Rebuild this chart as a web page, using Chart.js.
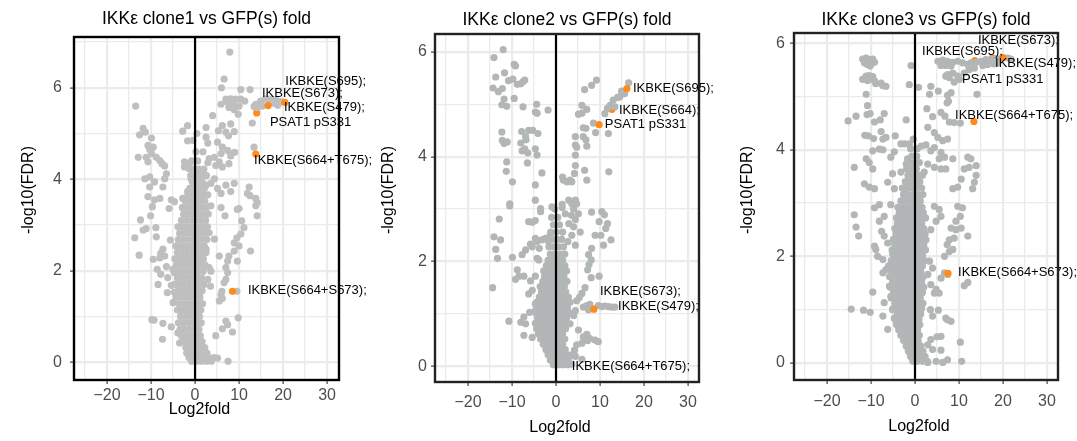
<!DOCTYPE html>
<html>
<head>
<meta charset="utf-8">
<script src="https://cdn.jsdelivr.net/npm/chart.js@4.4.1/dist/chart.umd.min.js"></script>
<style>
  body { margin: 0; background: #fff; width: 1077px; height: 441px; position: relative; overflow: hidden; }
  canvas { position: absolute; top: 0; }
</style>
</head>
<body>
<canvas id="clone1" width="380" height="441" style="left:0px"></canvas>
<canvas id="clone2" width="380" height="441" style="left:360px"></canvas>
<canvas id="clone3" width="360" height="441" style="left:717px"></canvas>
<script>
// ===================
// DATA  (x = Log2fold, y = -log10(FDR))
// ===================
const xTicks = [-25, -20, -15, -10, -5, 0, 5, 10, 15, 20, 25, 30];
const yTicks1 = [0, 1, 2, 3, 4, 5, 6, 7];
const yTicks23 = [0, 1, 2, 3, 4, 5, 6];

// --- clone1: scattered sites
const clone1Sites = [
  [7.9,6.78],[6.6,6.19],[6.0,6.00],[10.4,5.96],[12.5,5.96],[7.0,5.75],[8.1,5.76],[9.2,5.75],[10.4,5.75],[11.3,5.71],
  [8.7,5.64],[10.0,5.60],[8.9,5.52],[9.8,5.42],[5.9,5.64],[7.7,5.57],[7.4,5.68],[13.8,5.64],[14.9,5.71],[16.0,5.75],
  [17.1,5.75],[18.3,5.73],[19.4,5.70],[14.1,5.57],[13.4,5.59],[17.9,5.66],[18.8,5.62],[15.3,5.60],[13.0,5.23],[4.0,5.39],
  [-13.5,5.60],[-1.7,5.17],[-2.8,5.05],[2.5,5.13],[6.2,5.17],[8.1,5.21],[7.0,5.03],[7.6,4.95],[8.9,5.04],[5.3,5.06],
  [-11.8,5.11],[-11.3,5.03],[-12.6,4.97],[-9.9,4.90],[-10.7,4.74],[-10.3,4.65],[-9.5,4.70],[-9.9,4.56],[-11.1,4.48],[-8.8,4.48],
  [-8.0,4.41],[-7.5,4.34],[-6.9,4.29],[-12.9,4.48],[-10.7,4.38],[-1.7,4.84],[-2.4,4.38],[-1.3,4.34],[-1.3,4.23],[-2.4,4.27],
  [2.5,4.92],[2.9,4.79],[5.1,4.81],[6.2,4.70],[7.4,4.63],[8.1,4.56],[9.0,4.59],[5.9,4.56],[4.4,4.48],[5.5,4.38],
  [3.2,4.45],[2.9,4.36],[4.7,4.30],[6.2,4.27],[7.7,4.34],[8.1,4.51],[13.4,4.70],[8.9,3.91],[12.3,3.83],[11.9,3.69],
  [12.5,3.64],[13.8,3.58],[14.1,3.49],[-11.4,4.01],[-10.3,4.05],[-9.2,3.94],[-6.5,4.12],[-6.9,4.01],[-7.3,3.83],[-10.3,3.83],
  [-10.7,3.62],[-9.2,3.55],[-8.0,3.58],[-5.4,3.55],[-4.7,3.51],[-2.8,3.58],[1.0,4.16],[2.1,4.09],[1.4,3.94],[2.5,3.87],
  [3.6,3.91],[4.4,4.01],[5.1,3.80],[5.9,3.69],[7.0,3.87],[8.1,3.73],[10.0,3.36],[-0.9,4.01],[-0.2,3.83],[-1.7,3.73],
  [-9.7,3.40],[-5.9,3.36],[-12.4,3.11],[-10.1,3.20],[-11.1,2.92],[-11.8,2.89],[-8.9,2.94],[-13.7,2.72],[-8.8,2.74],[-5.6,2.67],
  [-7.3,2.47],[-7.8,2.38],[-6.9,2.32],[-12.7,2.34],[-9.5,2.25],[-8.0,2.28],[-8.6,2.03],[-6.5,2.09],[-5.0,2.03],[-7.8,1.92],
  [-6.2,1.85],[-4.7,1.96],[-8.4,1.70],[-5.4,1.68],[-4.7,1.53],[-6.3,1.52],[-5.0,1.30],[-9.8,0.93],[-9.3,0.92],[-7.3,0.85],
  [-5.4,0.77],[-7.4,0.50],[-3.9,0.64],[-3.5,0.42],[3.6,3.42],[5.9,3.38],[6.8,3.20],[9.6,3.34],[13.8,3.42],[14.1,3.20],
  [10.6,3.09],[11.1,2.94],[10.4,2.80],[9.5,2.72],[8.9,2.61],[10.0,2.54],[8.9,2.43],[12.6,2.43],[7.7,2.32],[9.6,2.21],
  [7.4,2.21],[5.5,2.32],[7.0,2.07],[7.4,1.96],[7.0,1.81],[6.6,1.74],[6.1,1.55],[9.5,1.55],[5.9,1.48],[5.5,1.34],
  [6.2,1.39],[9.8,0.97],[7.0,0.90],[7.4,0.82],[6.2,0.73],[8.5,0.66],[4.7,0.58],[5.1,0.09],[7.5,0.02],[3.2,2.07],
  [3.6,1.99],[3.5,1.66],[2.9,1.81],[3.2,2.83],[4.4,2.69],[2.5,2.47]
];
// --- clone1: dense core, each row is [-log10(FDR), log2fold, log2fold, ...]
const clone1Core = [
  [0.02,-0.8,0.3,1.4,2.6,3.7],[0.10,-1.4,-0.3,0.9,2.0,3.2,4.4],[0.20,-1.9,-0.8,0.4,1.5,2.7],[0.32,-2.1,-1.1,0.0,1.1,2.2],
  [0.45,-2.6,-1.5,-0.4,0.7,1.6],[0.58,-3.1,-2.0,-0.9,0.2,1.2],[0.72,-3.4,-2.4,-1.3,-0.2,0.9],[0.86,-3.8,-2.7,-1.6,-0.5,0.6,1.4],
  [1.00,-3.3,-2.2,-1.1,0.0,1.0],[1.14,-4.0,-2.9,-1.8,-0.7,0.4,1.3],[1.28,-3.6,-2.5,-1.4,-0.3,0.8,1.7],[1.42,-4.3,-3.2,-2.1,-1.0,0.1,1.1],
  [1.56,-3.8,-2.7,-1.6,-0.5,0.6,1.6],[1.70,-4.6,-3.5,-2.4,-1.3,-0.2,0.9,2.0],[1.84,-4.0,-2.9,-1.8,-0.7,0.4,1.5],
  [1.98,-4.8,-3.7,-2.6,-1.5,-0.4,0.7,1.8],[2.12,-4.2,-3.1,-2.0,-0.9,0.2,1.3,2.3],[2.26,-4.6,-3.5,-2.4,-1.3,-0.2,0.9,1.9],
  [2.40,-4.0,-2.9,-1.8,-0.7,0.4,1.5,2.5],[2.54,-4.4,-3.3,-2.2,-1.1,0.0,1.1,2.1],[2.68,-3.8,-2.7,-1.6,-0.5,0.6,1.7,2.7],
  [2.82,-3.5,-2.4,-1.3,-0.2,0.9,2.0],[2.96,-3.9,-2.8,-1.7,-0.6,0.5,1.6,2.8],[3.10,-3.1,-2.0,-0.9,0.2,1.3,2.4],
  [3.24,-2.6,-1.5,-0.4,0.7,1.8,3.0],[3.38,-2.9,-1.8,-0.7,0.4,1.5,2.6],[3.52,-2.2,-1.1,0.0,1.1,2.2],[3.66,-1.6,-0.5,0.6,1.7,2.9],
  [3.80,-1.2,-0.1,1.0,2.1],[3.94,-0.6,0.5,1.6],[4.08,-1.0,0.2,1.3,2.6],[4.22,-0.4,0.8,2.0],[4.40,-0.8,0.6],[4.60,0.2,1.8],
  [4.85,-0.5],[5.00,0.4]
];
const clone1Hits = [["IKBKE(S479)",20.4,5.68],["IKBKE(S673)",16.6,5.61],["IKBKE(S664+T675)",13.8,4.55],["IKBKE(S664+S673)",8.5,1.55]];
const clone1Hidden = [["PSAT1 pS331",14.0,5.45]];
const clone1Labels = [["IKBKE(S695);",20.5,6.14],["IKBKE(S673);",15.2,5.88],["IKBKE(S479);",20.2,5.56],
  ["PSAT1 pS331",17.0,5.25],["IKBKE(S664+T675);",13.4,4.42],["IKBKE(S664+S673);",12.0,1.57]];

// --- clone2
const clone2Sites = [
  [-12.0,6.04],[-14.1,5.89],[-9.5,5.76],[-9.2,5.73],[-13.7,5.52],[-11.7,5.60],[-9.8,5.48],[-10.8,5.45],[-8.8,5.38],[-8.0,5.39],
  [-7.5,5.43],[-7.1,5.46],[-14.3,5.31],[-13.1,5.24],[-12.2,5.30],[-11.8,5.10],[-9.5,5.11],[-12.3,4.99],[-11.2,4.96],[-7.5,4.95],
  [-4.4,5.00],[-4.7,4.85],[-4.3,4.83],[-1.8,4.89],[-12.3,4.47],[-12.2,4.31],[-11.1,4.28],[-11.8,4.25],[-7.8,4.48],[-6.2,4.50],
  [-5.3,4.50],[-4.1,4.44],[-6.9,4.38],[-6.8,4.32],[-8.0,4.26],[-4.7,4.15],[-7.7,4.11],[-7.1,4.15],[-6.4,4.07],[-4.3,4.03],
  [-11.2,3.90],[-11.3,3.72],[-9.9,3.52],[-6.5,3.88],[-3.2,3.69],[-4.7,3.46],[-10.5,3.10],[-4.7,3.17],[-3.5,3.01],
  [9.2,5.46],[8.1,5.36],[6.5,5.28],[16.5,5.41],[14.9,5.25],[14.0,5.13],[13.0,5.08],[12.3,4.98],[13.4,4.95],[11.7,4.92],
  [14.5,5.14],[15.6,5.20],[11.1,4.82],[5.9,4.98],[7.0,4.90],[5.9,4.83],[5.1,4.81],[8.5,4.64],[9.0,4.46],[11.9,4.44],
  [6.2,4.55],[6.8,4.54],[6.2,4.38],[6.8,4.32],[4.4,4.38],[4.4,4.22],[4.7,4.18],[7.0,4.20],[4.4,4.03],[4.4,3.83],
  [6.5,3.74],[7.0,3.55],[12.0,3.71],[4.2,3.68],[3.2,3.55],[2.5,3.52],[1.7,3.55],[3.6,3.52],[1.5,3.61],[4.4,3.17],
  [2.9,3.17],[3.6,3.10],[4.7,3.10],[-0.9,3.04],[1.4,3.09],
  [-10.5,3.06],[-12.9,2.81],[-14.1,2.47],[-12.6,2.41],[-13.7,2.23],[-13.3,2.06],[-9.9,2.08],[-7.7,2.13],[-6.9,2.22],[-5.8,2.33],
  [-5.4,2.28],[-4.7,2.44],[-4.3,2.38],[-3.2,2.41],[-2.4,2.44],[-1.3,2.51],[-1.7,2.38],[-5.4,2.75],[-6.2,2.76],[-4.7,2.78],
  [-3.5,2.95],[-3.8,2.25],[-3.9,2.03],[-4.3,2.06],[-8.8,1.84],[-7.3,1.72],[-8.4,1.72],[-9.2,1.66],[-5.8,1.63],[-4.7,1.72],
  [-5.4,1.45],[-6.2,1.38],[-4.7,1.19],[-3.9,1.25],[-14.4,1.50],[-6.0,1.03],[-4.7,1.06],[-7.3,0.94],[-6.9,0.81],[-8.0,0.84],
  [-10.7,0.86],[-7.3,0.59],[-5.4,0.55],[-3.0,0.69],[-2.8,0.78],
  [1.4,3.03],[2.1,2.91],[3.5,2.88],[2.9,2.72],[4.4,2.80],[4.0,3.00],[5.1,2.91],[4.0,2.66],[5.5,2.56],[3.6,2.50],
  [2.7,2.38],[4.4,2.31],[8.1,2.94],[10.4,2.95],[11.0,2.89],[9.8,2.76],[11.7,2.72],[11.3,2.63],[8.9,2.50],[10.2,2.50],
  [12.5,2.41],[10.8,2.31],[8.1,2.25],[7.4,2.13],[8.0,2.03],[7.5,1.94],[7.2,1.84],[9.8,1.72],[8.0,1.69],[6.6,1.50],
  [5.9,1.39],[5.3,1.31],[4.7,1.25],[4.4,1.06],[4.0,0.97],[3.2,0.81],
  [7.0,1.16],[7.7,1.18],[9.6,1.16],[10.4,1.14],[11.1,1.15],[11.9,1.14],[12.6,1.13],[13.4,1.13],[6.2,1.13],[7.4,1.08],
  [5.1,0.69],[6.2,0.56],[7.0,0.61],[7.7,0.53],[8.9,0.50],[9.6,0.47],[7.2,0.49],[5.9,0.44],[4.7,0.41],[4.2,0.31],
  [3.6,0.22],[2.9,0.16],[4.4,0.19],[5.9,0.13],[2.5,0.06],[3.6,0.04]
];
const clone2Core = [
  [0.03,-0.6,0.5,1.6,2.7],[0.12,-1.3,-0.2,0.9,2.0],[0.22,-1.8,-0.7,0.4,1.5,2.6],[0.32,-2.3,-1.2,-0.1,1.0,2.1],
  [0.42,-2.9,-1.8,-0.7,0.4,1.5],[0.52,-3.5,-2.4,-1.3,-0.2,0.9,2.0],[0.62,-4.0,-2.9,-1.8,-0.7,0.4,1.5],
  [0.72,-4.4,-3.3,-2.2,-1.1,0.0,1.1,2.2],[0.82,-4.7,-3.6,-2.5,-1.4,-0.3,0.8,1.9],[0.92,-4.2,-3.1,-2.0,-0.9,0.2,1.3,2.4],
  [1.02,-4.6,-3.5,-2.4,-1.3,-0.2,0.9,2.0,3.0],[1.12,-4.0,-2.9,-1.8,-0.7,0.4,1.5,2.6],[1.22,-4.4,-3.3,-2.2,-1.1,0.0,1.1,2.2,3.2],
  [1.32,-3.8,-2.7,-1.6,-0.5,0.6,1.7,2.8],[1.42,-3.3,-2.2,-1.1,0.0,1.1,2.2],[1.52,-3.6,-2.5,-1.4,-0.3,0.8,1.9],
  [1.62,-3.0,-1.9,-0.8,0.3,1.4,2.5],[1.72,-2.6,-1.5,-0.4,0.7,1.8],[1.82,-2.8,-1.7,-0.6,0.5,1.6,2.4],[1.92,-2.2,-1.1,0.0,1.1,2.0],
  [2.02,-1.8,-0.7,0.4,1.5],[2.14,-1.3,-0.2,0.9,2.0],[2.28,-1.6,-0.5,0.6,1.7],[2.42,-0.9,0.2,1.3],[2.56,-1.2,0.1,1.5],
  [2.70,-0.6,0.8],[2.84,-1.0,0.4],[3.00,-0.3]
];
const clone2Hits = [["IKBKE(S695)",16.1,5.30],["PSAT1 pS331",9.8,4.61],["IKBKE(S479)",8.6,1.09]];
const clone2Hidden = [["IKBKE(S664)",12.7,4.90],["IKBKE(S664+T675)",3.0,0.05]];
const clone2Labels = [["IKBKE(S695);",17.5,5.30],["IKBKE(S664);",14.3,4.89],["PSAT1 pS331",11.1,4.61],
  ["IKBKE(S673);",10.0,1.43],["IKBKE(S479);",14.1,1.15],["IKBKE(S664+T675);",3.6,0.0]];

// --- clone3
const clone3Sites = [
  [-11.9,5.70],[-11.1,5.72],[-10.4,5.69],[-9.6,5.70],[-11.5,5.63],[-10.8,5.60],[-10.0,5.61],[-9.2,5.64],[-10.2,5.57],[-11.1,5.38],
  [-10.4,5.39],[-9.6,5.37],[-11.9,5.32],[-10.8,5.30],[-9.2,5.29],[-8.9,5.24],[-7.3,5.20],[-6.6,5.19],[-7.7,5.25],[-0.9,5.58],
  [-1.3,5.22],[0.8,5.17],[-11.1,5.04],[-10.8,4.83],[-10.2,4.68],[-10.9,4.66],[-9.2,4.52],[-7.9,4.56],[-13.4,4.63],[-15.2,4.54],
  [-7.0,4.68],[-2.0,4.56],[-11.4,4.27],[-10.6,4.26],[-9.4,4.21],[-7.7,4.34],[-7.3,4.20],[-8.1,4.01],[-7.3,4.00],[-9.6,3.98],
  [-13.8,3.67],[-11.1,3.83],[-10.4,3.76],[-9.6,3.64],[-11.5,3.36],[-10.4,3.30],[-9.2,3.27],[-5.5,3.86],[-4.7,3.96],[-3.2,4.11],
  [-2.4,4.11],[-1.3,4.11],[-6.6,4.23],[-4.5,4.26],[-1.7,3.83],[-2.0,3.73],[-3.2,3.58],[-5.1,3.55],[-6.2,3.39],[-4.7,3.27],
  [-2.4,3.20],[-1.3,3.70],
  [5.2,5.66],[6.3,5.68],[7.4,5.66],[8.6,5.64],[9.7,5.66],[10.8,5.63],[5.9,5.58],[7.0,5.58],[8.2,5.57],[12.0,5.60],
  [12.7,5.63],[13.9,5.64],[15.0,5.66],[16.1,5.69],[17.3,5.70],[18.4,5.71],[19.5,5.71],[21.1,5.72],[21.8,5.70],[15.4,5.58],
  [16.5,5.60],[17.9,5.61],[18.8,5.63],[7.4,5.41],[8.6,5.44],[9.7,5.38],[7.8,5.35],[7.0,5.38],[8.9,5.27],[10.1,5.32],
  [11.2,5.44],[12.3,5.50],[13.5,5.53],[14.1,5.04],[8.2,5.07],[7.4,5.02],[7.6,4.91],[7.3,4.88],[5.9,4.70],[6.8,4.63],
  [7.8,4.52],[8.9,4.51],[10.3,4.50],[3.6,5.19],[3.3,5.04],[5.3,5.10],[2.7,4.77],[4.0,4.62],[2.9,4.42],[4.4,4.32],
  [5.2,4.23],[6.3,4.17],[7.4,4.20],[4.4,4.04],[5.9,3.95],[6.7,3.86],[5.5,3.83],[3.6,3.98],[2.5,4.09],[1.4,4.07],
  [2.9,3.73],[4.4,3.67],[5.9,3.64],[7.0,3.64],[8.6,3.83],[12.0,3.86],[12.7,3.83],[13.9,3.70],[12.3,3.67],[11.2,3.64],
  [10.5,3.45],[9.7,3.30],[8.6,3.27],[13.9,3.52],[13.5,3.39],[13.1,3.27],[2.1,3.58],[1.0,3.52],
  [-13.8,2.78],[-13.4,2.55],[-12.8,2.38],[-9.2,2.19],[-8.9,2.13],[-8.5,2.00],[-7.3,1.94],[-9.6,1.33],[-14.5,1.01],[-11.7,0.99],
  [-10.2,0.95],[-7.3,0.88],[-6.2,0.63],[-8.1,2.97],[-9.2,2.91],[-5.5,2.97],[-7.0,2.75],[-8.1,2.66],[-7.6,2.47],[-7.0,2.38],
  [-6.2,2.25],[-5.1,2.06],[-6.6,1.75],[-7.3,1.69],[-5.8,1.44],[-5.5,1.25],[-7.0,1.13],[-5.1,1.00],[-4.7,0.84],[-3.9,0.75],
  [-3.2,0.63],
  [4.4,2.94],[5.5,2.88],[5.9,2.75],[4.8,2.66],[3.6,2.50],[2.5,2.31],[9.7,2.94],[10.8,2.91],[10.3,2.75],[9.3,2.66],
  [8.2,2.53],[9.3,2.50],[10.5,2.53],[12.0,2.38],[7.8,2.31],[8.9,2.34],[7.3,2.22],[7.8,2.09],[8.6,2.13],[6.7,2.00],
  [3.3,1.91],[4.0,1.78],[2.9,1.66],[6.7,1.69],[5.9,1.59],[7.4,1.66],[12.0,1.51],[11.2,1.45],[3.6,1.47],[4.8,1.38],
  [5.5,1.31],[4.4,1.31],[3.5,1.00],[4.0,0.88],[5.3,0.99],[7.0,0.84],[8.2,0.78],[7.4,0.81],[10.3,0.39],[5.9,0.50],
  [5.0,0.49],[3.6,0.44],[2.9,0.34],[4.0,0.25],[5.9,0.24],[7.4,0.06],[6.3,0.01],[4.8,0.03],[2.9,0.01],[10.6,0.03]
];
const clone3Core = [
  [0.03,-0.5,0.6,1.7,2.8],[0.12,-1.0,0.1,1.2,2.3],[0.22,-1.5,-0.4,0.7,1.8],[0.32,-2.0,-0.9,0.2,1.3],
  [0.42,-2.6,-1.5,-0.4,0.7],[0.52,-3.2,-2.1,-1.0,0.1,1.0],[0.62,-3.7,-2.6,-1.5,-0.4,0.6],[0.72,-4.2,-3.1,-2.0,-0.9,0.2,1.1],
  [0.82,-4.5,-3.4,-2.3,-1.2,-0.1,0.9],[0.92,-4.0,-2.9,-1.8,-0.7,0.4,1.3],[1.02,-5.0,-3.9,-2.8,-1.7,-0.6,0.5,1.5],
  [1.12,-4.6,-3.5,-2.4,-1.3,-0.2,0.9,1.8],[1.22,-5.4,-4.3,-3.2,-2.1,-1.0,0.1,1.2],[1.32,-4.9,-3.8,-2.7,-1.6,-0.5,0.6,1.7],
  [1.42,-5.6,-4.5,-3.4,-2.3,-1.2,-0.1,1.0,2.0],[1.52,-5.1,-4.0,-2.9,-1.8,-0.7,0.4,1.5],
  [1.62,-5.8,-4.7,-3.6,-2.5,-1.4,-0.3,0.8,1.9],[1.72,-5.3,-4.2,-3.1,-2.0,-0.9,0.2,1.3],
  [1.82,-6.0,-4.9,-3.8,-2.7,-1.6,-0.5,0.6,1.7],[1.92,-5.4,-4.3,-3.2,-2.1,-1.0,0.1,1.2,2.2],
  [2.02,-4.9,-3.8,-2.7,-1.6,-0.5,0.6,1.7],[2.12,-5.2,-4.1,-3.0,-1.9,-0.8,0.3,1.4,2.4],[2.22,-4.6,-3.5,-2.4,-1.3,-0.2,0.9,2.0],
  [2.32,-4.9,-3.8,-2.7,-1.6,-0.5,0.6,1.7],[2.42,-4.3,-3.2,-2.1,-1.0,0.1,1.2,2.3],[2.52,-4.6,-3.5,-2.4,-1.3,-0.2,0.9,2.0],
  [2.62,-4.0,-2.9,-1.8,-0.7,0.4,1.5],[2.72,-4.2,-3.1,-2.0,-0.9,0.2,1.3,2.4],[2.82,-3.6,-2.5,-1.4,-0.3,0.8,1.9],
  [2.92,-3.9,-2.8,-1.7,-0.6,0.5,1.6],[3.04,-3.2,-2.1,-1.0,0.1,1.2],[3.16,-2.6,-1.5,-0.4,0.7,1.8],[3.28,-2.9,-1.8,-0.7,0.4,1.5],
  [3.40,-2.2,-1.1,0.0,1.1],[3.52,-1.6,-0.5,0.6,1.7],[3.64,-1.9,-0.8,0.3],[3.76,-1.2,-0.1,1.0],[3.88,-0.7,0.4],
  [4.02,-1.0,0.5],[4.20,-0.4]
];
const clone3Hits = [["IKBKE(S479)",20.0,5.73],["IKBKE(S664+T675)",13.4,4.53],["IKBKE(S664+S673)",7.5,1.68]];
const clone3Hidden = [["IKBKE(S695)",13.6,5.67],["IKBKE(S673)",17.6,5.72]];
const clone3Labels = [["IKBKE(S673);",14.3,6.05],["IKBKE(S695);",1.6,5.84],["IKBKE(S479);",18.2,5.62],
  ["PSAT1 pS331",10.7,5.32],["IKBKE(S664+T675);",9.1,4.64],["IKBKE(S664+S673);",9.8,1.69]];

// ===================
// HELPERS
// ===================
const FONT = '"Liberation Sans", Arial, Helvetica, sans-serif';
Chart.defaults.font.family = FONT;
Chart.defaults.animation = false;

const toPoints = arr => arr.map(([x, y]) => ({ x, y }));
const coreToPoints = rows => rows.flatMap(([y, ...xs]) => xs.map(x => ({ x, y })));
const hitPoints = arr => arr.map(([name, x, y]) => ({ x, y, name }));

// frame, zero line, labels and titles
const panelDecor = {
  id: "panelDecor",
  afterDatasetsDraw(chart, args, o) {
    const { ctx, chartArea: a, scales: { x, y } } = chart;
    ctx.save();
    const x0 = x.getPixelForValue(0);
    ctx.strokeStyle = "#000";
    ctx.lineWidth = 2.2;
    ctx.beginPath();
    ctx.moveTo(x0, a.top);
    ctx.lineTo(x0, a.bottom);
    ctx.stroke();

    ctx.fillStyle = "#000";
    ctx.font = "13px " + FONT;
    ctx.textAlign = "left";
    ctx.textBaseline = "middle";
    o.labels.forEach(([text, lx, ly]) => {
      ctx.fillText(text, x.getPixelForValue(lx), y.getPixelForValue(ly));
    });

    ctx.strokeStyle = o.frameColor;
    ctx.lineWidth = 2.4;
    ctx.strokeRect(a.left, a.top, a.width, a.height);
    ctx.restore();
  },
  afterDraw(chart, args, o) {
    const { ctx, chartArea: a } = chart;
    const cx = (a.left + a.right) / 2;
    ctx.save();
    ctx.fillStyle = "#000";
    ctx.textAlign = "center";
    ctx.textBaseline = "middle";
    ctx.font = "17.5px " + FONT;
    ctx.fillText(o.title, cx, o.titleY);
    ctx.font = "16px " + FONT;
    ctx.fillText("Log2fold", cx - 7, o.xTitleY);
    ctx.translate(o.yTitleX, 190);
    ctx.rotate(-Math.PI / 2);
    ctx.fillText("-log10(FDR)", 0, 0);
    ctx.restore();
  },
};

function makePanel(id, p) {
  const greyPts = toPoints(p.sites).concat(coreToPoints(p.core));
  return new Chart(document.getElementById(id), {
    type: "scatter",
    data: {
      datasets: [
        { label: "hits", data: hitPoints(p.hits), backgroundColor: "#ff8c1a", pointRadius: 3.6, borderWidth: 0, order: 0 },
        { label: "sites", data: greyPts, backgroundColor: p.grey, pointRadius: 3.6, borderWidth: 0, order: 1 },
        { label: "hidden hits", data: hitPoints(p.hidden), backgroundColor: "#ff8c1a", pointRadius: 3.6, borderWidth: 0, order: 2 },
      ],
    },
    options: {
      responsive: false,
      events: [],
      layout: { padding: { top: p.top, right: p.right, left: 0, bottom: 0 } },
      plugins: {
        legend: { display: false },
        tooltip: { enabled: false },
        panelDecor: { labels: p.labels, title: p.title, titleY: p.titleY, xTitleY: p.xTitleY, yTitleX: p.yTitleX, frameColor: p.frame },
      },
      scales: {
        x: {
          type: "linear",
          min: p.xMin,
          max: p.xMax,
          afterBuildTicks: s => { s.ticks = xTicks.map(v => ({ value: v })); },
          afterFit: s => { s.height = p.xAxisH; },
          ticks: {
            autoSkip: false,
            maxRotation: 0,
            padding: p.xPad,
            color: "#4d4d4d",
            font: { size: 16 },
            callback: v => (v % 10 === 0 ? (v < 0 ? "\u2212" + Math.abs(v) : String(v)) : ""),
          },
          grid: {
            color: "#ebebeb",
            lineWidth: c => (c.tick && c.tick.value % 10 === 0 ? 2.2 : 1.3),
            drawTicks: true,
            tickLength: 4,
            tickWidth: 1.1,
            tickColor: c => (c.tick && c.tick.value % 10 === 0 ? "#333" : "rgba(0,0,0,0)"),
          },
          border: { display: false },
        },
        y: {
          type: "linear",
          min: p.yMin,
          max: p.yMax,
          afterBuildTicks: s => { s.ticks = p.yTicks.map(v => ({ value: v })); },
          afterFit: s => { s.width = p.yAxisW; },
          ticks: {
            autoSkip: false,
            padding: p.yPad,
            color: "#4d4d4d",
            font: { size: 16 },
            callback: v => (v % 2 === 0 ? String(v) : ""),
          },
          grid: {
            color: "#ebebeb",
            lineWidth: c => (c.tick && c.tick.value % 2 === 0 ? 2.2 : 1.3),
            drawTicks: true,
            tickLength: 4,
            tickWidth: 1.1,
            tickColor: c => (c.tick && c.tick.value % 2 === 0 ? "#333" : "rgba(0,0,0,0)"),
          },
          border: { display: false },
        },
      },
    },
    plugins: [panelDecor],
  });
}

// ===================
// PANELS
// ===================
makePanel("clone1", {
  sites: clone1Sites, core: clone1Core, hits: clone1Hits, hidden: clone1Hidden, labels: clone1Labels,
  title: "IKK\u03b5 clone1 vs GFP(s) fold", grey: "#bfbfbf", frame: "#000",
  xMin: -27.5, xMax: 32.7, yMin: -0.39, yMax: 7.11, yTicks: yTicks1,
  top: 37, right: 41, yAxisW: 74, xAxisH: 61, xPad: 2, yPad: 8,
  titleY: 19, xTitleY: 410, yTitleX: 29,
});
makePanel("clone2", {
  sites: clone2Sites, core: clone2Core, hits: clone2Hits, hidden: clone2Hidden, labels: clone2Labels,
  title: "IKK\u03b5 clone2 vs GFP(s) fold", grey: "#b3b6b6", frame: "#222",
  xMin: -27.5, xMax: 32.5, yMin: -0.30, yMax: 6.34, yTicks: yTicks23,
  top: 34, right: 41, yAxisW: 75, xAxisH: 59, xPad: 7, yPad: 4,
  titleY: 20, xTitleY: 428, yTitleX: 29,
});
makePanel("clone3", {
  sites: clone3Sites, core: clone3Core, hits: clone3Hits, hidden: clone3Hidden, labels: clone3Labels,
  title: "IKK\u03b5 clone3 vs GFP(s) fold", grey: "#b3b6b6", frame: "#222",
  xMin: -27.5, xMax: 32.5, yMin: -0.32, yMax: 6.19, yTicks: yTicks23,
  top: 33, right: 19, yAxisW: 77, xAxisH: 61, xPad: 8, yPad: 5,
  titleY: 20, xTitleY: 427, yTitleX: 31,
});
</script>
</body>
</html>
